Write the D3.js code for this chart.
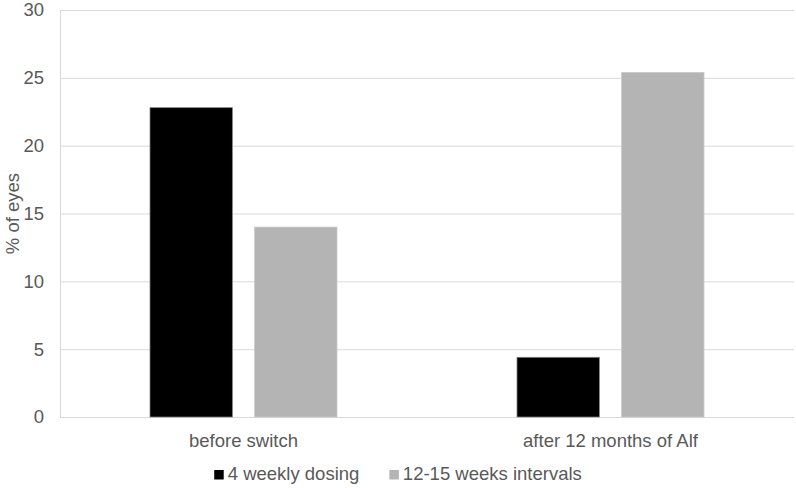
<!DOCTYPE html>
<html>
<head>
<meta charset="utf-8">
<script src="https://cdn.jsdelivr.net/npm/d3@7"></script>
<style>
  body { margin: 0; background: #fff; }
  text { font-family: "Liberation Sans", Arial, sans-serif; fill: #595959; }
</style>
</head>
<body>
<svg id="chart" width="796" height="488"></svg>
<script>
var categories = ["before switch", "after 12 months of Alf"];
var seriesNames = ["4 weekly dosing", "12-15 weeks intervals"];
var weekly4 = [22.8, 4.4];
var weeks12to15 = [14.0, 25.4];
var yTicks = [0, 5, 10, 15, 20, 25, 30];
var colors = ["#000000", "#b4b4b4"];
var strokes = ["#7f7f7f", "#c8c8c8"];

var width = 796, height = 488;
var margin = {top: 10, right: 2, bottom: 71, left: 60};
var fontSize = 18.5;

var svg = d3.select("#chart");

var x0 = d3.scaleBand()
    .domain(categories)
    .range([margin.left, width - margin.right])
    .padding(0);

var x1 = d3.scaleBand()
    .domain(seriesNames)
    .range([0, x0.bandwidth()])
    .paddingInner(0.213)
    .paddingOuter(0.86);

var y = d3.scaleLinear()
    .domain([0, 30])
    .range([height - margin.bottom, margin.top]);

// gridlines
svg.append("g")
    .selectAll("line")
    .data(yTicks)
    .enter().append("line")
    .attr("x1", margin.left)
    .attr("x2", width - margin.right)
    .attr("y1", function(d) { return y(d) + 0.5; })
    .attr("y2", function(d) { return y(d) + 0.5; })
    .attr("stroke", "#d9d9d9")
    .attr("stroke-width", 1);

// left axis line
svg.append("line")
    .attr("x1", margin.left + 0.5).attr("x2", margin.left + 0.5)
    .attr("y1", y(30)).attr("y2", y(0) + 1)
    .attr("stroke", "#d9d9d9");

// y tick labels
svg.append("g")
    .selectAll("text")
    .data(yTicks)
    .enter().append("text")
    .attr("x", margin.left - 16)
    .attr("y", function(d) { return y(d); })
    .attr("dy", "0.35em")
    .attr("text-anchor", "end")
    .style("font-size", fontSize + "px")
    .text(function(d) { return d; });

// y title
svg.append("text")
    .attr("transform", "translate(19," + ((y(0) + y(30)) / 2) + ") rotate(-90)")
    .attr("text-anchor", "middle")
    .style("font-size", fontSize + "px")
    .text("% of eyes");

// bars
var series = [weekly4, weeks12to15];
series.forEach(function(vals, si) {
  svg.append("g")
    .selectAll("rect")
    .data(vals)
    .enter().append("rect")
    .attr("x", function(d, i) { return x0(categories[i]) + x1(seriesNames[si]); })
    .attr("y", function(d) { return y(d); })
    .attr("width", x1.bandwidth())
    .attr("height", function(d) { return y(0) - y(d); })
    .attr("fill", colors[si])
    .attr("stroke", strokes[si])
    .attr("stroke-width", 0.75);
});

// category labels
svg.append("g")
    .selectAll("text")
    .data(categories)
    .enter().append("text")
    .attr("x", function(d) { return x0(d) + x0.bandwidth() / 2; })
    .attr("y", 446.5)
    .attr("text-anchor", "middle")
    .style("font-size", fontSize + "px")
    .text(function(d) { return d; });

// legend
var legend = svg.append("g");
var cursor = 0;
seriesNames.forEach(function(name, i) {
  var item = legend.append("g").attr("transform", "translate(" + cursor + ",0)");
  item.append("rect")
      .attr("x", 0).attr("y", -9.5)
      .attr("width", 9.5).attr("height", 9.5)
      .attr("fill", colors[i]);
  var t = item.append("text")
      .attr("x", 13.5).attr("y", 0)
      .style("font-size", fontSize + "px")
      .text(name);
  cursor += 13.5 + t.node().getComputedTextLength() + 30;
});
var legendWidth = cursor - 30;
legend.attr("transform", "translate(" + ((width - legendWidth) / 2) + ",479.5)");
</script>
</body>
</html>
